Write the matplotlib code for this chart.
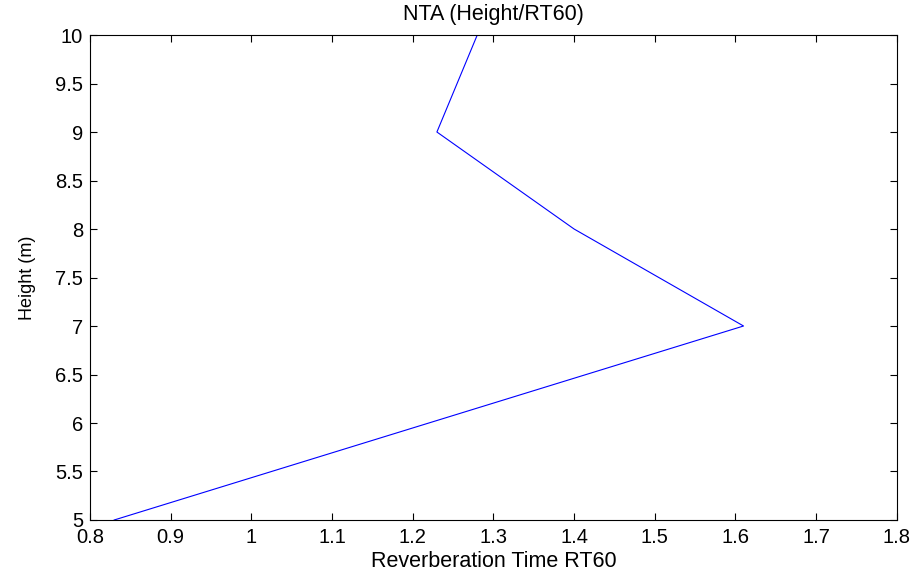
import numpy as np
import matplotlib.pyplot as plt

plt.rc('font', family='Liberation Sans', size=14)

# data
rt60 = [0.83, 1.61, 1.40, 1.23, 1.28]
height = [5, 7, 8, 9, 10]

xticks = np.arange(0.8, 1.81, 0.1)
yticks = np.arange(5, 10.01, 0.5)

fig = plt.figure(figsize=(9.17, 5.73), dpi=100)
ax = fig.add_axes([0.0981, 0.0925, 0.8799, 0.8464])

ax.plot(rt60, height, color='blue', linewidth=0.8)

ax.set_xlim(0.8, 1.8)
ax.set_ylim(5, 10)
ax.set_xticks(xticks)
ax.set_xticklabels([f'{v:g}' for v in np.round(xticks, 1)])
ax.set_yticks(yticks)
ax.set_yticklabels([f'{v:g}' for v in yticks])
ax.tick_params(direction='in', top=True, right=True, length=5, width=0.8, labelsize=14.5)
ax.tick_params(axis='x', pad=6)
ax.tick_params(axis='y', pad=5)
for s in ax.spines.values():
    s.set_linewidth(0.8)

ax.set_title('NTA (Height/RT60)', fontsize=15.5, pad=11)
ax.set_xlabel('Reverberation Time RT60', fontsize=15.5, labelpad=3)
ax.set_ylabel('Height (m)', fontsize=13, labelpad=14)

plt.savefig('out.png', dpi=100)
